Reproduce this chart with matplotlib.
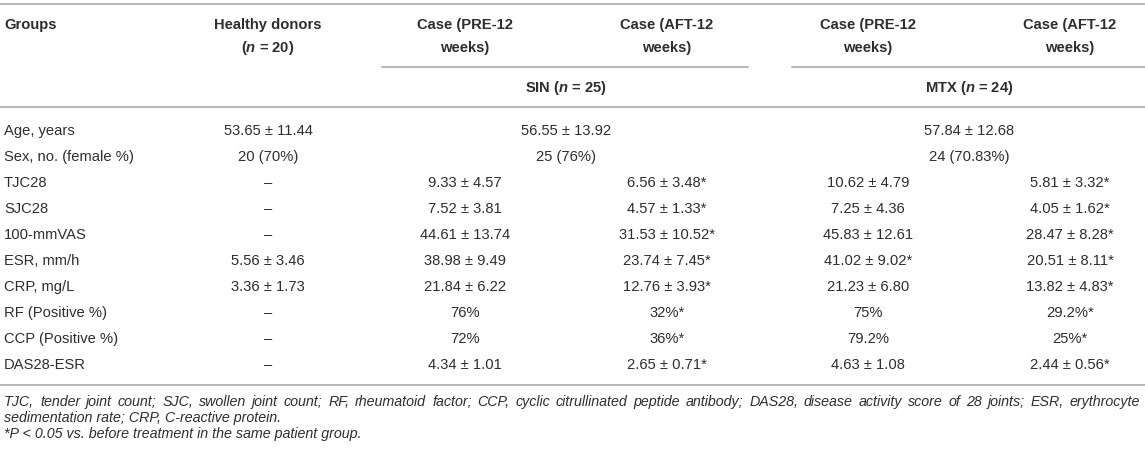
import matplotlib
matplotlib.use("Agg")
import matplotlib.pyplot as plt

plt.rcParams['font.family'] = ['Liberation Sans', 'DejaVu Sans']
plt.rcParams['mathtext.fontset'] = 'custom'
plt.rcParams['mathtext.rm'] = 'Liberation Sans'
plt.rcParams['mathtext.it'] = 'Liberation Sans:italic'
plt.rcParams['mathtext.bf'] = 'Liberation Sans:bold'
plt.rcParams['mathtext.bfit'] = 'Liberation Sans:bold:italic'

# table content
row_labels = ["Age, years", "Sex, no. (female %)", "TJC28", "SJC28", "100-mmVAS",
              "ESR, mm/h", "CRP, mg/L", "RF (Positive %)", "CCP (Positive %)", "DAS28-ESR"]
healthy = ["53.65 ± 11.44", "20 (70%)", "–", "–", "–", "5.56 ± 3.46", "3.36 ± 1.73", "–", "–", "–"]
sin_pre = [None, None, "9.33 ± 4.57", "7.52 ± 3.81", "44.61 ± 13.74", "38.98 ± 9.49",
           "21.84 ± 6.22", "76%", "72%", "4.34 ± 1.01"]
sin_aft = [None, None, "6.56 ± 3.48*", "4.57 ± 1.33*", "31.53 ± 10.52*", "23.74 ± 7.45*",
           "12.76 ± 3.93*", "32%*", "36%*", "2.65 ± 0.71*"]
mtx_pre = [None, None, "10.62 ± 4.79", "7.25 ± 4.36", "45.83 ± 12.61", "41.02 ± 9.02*",
           "21.23 ± 6.80", "75%", "79.2%", "4.63 ± 1.08"]
mtx_aft = [None, None, "5.81 ± 3.32*", "4.05 ± 1.62*", "28.47 ± 8.28*", "20.51 ± 8.11*",
           "13.82 ± 4.83*", "29.2%*", "25%*", "2.44 ± 0.56*"]
sin_merged = ["56.55 ± 13.92", "25 (76%)"]
mtx_merged = ["57.84 ± 12.68", "24 (70.83%)"]

headers_top = ["Healthy donors", "Case (PRE-12", "Case (AFT-12", "Case (PRE-12", "Case (AFT-12"]
headers_bot = ["($\\mathbfit{n}$ = 20)", "weeks)", "weeks)", "weeks)", "weeks)"]
group_labels = ["SIN ($\\mathbfit{n}$ = 25)", "MTX ($\\mathbfit{n}$ = 24)"]

footnotes = [
    "TJC, tender joint count; SJC, swollen joint count; RF, rheumatoid factor; CCP, cyclic citrullinated peptide antibody; DAS28, disease activity score of 28 joints; ESR, erythrocyte",
    "sedimentation rate; CRP, C-reactive protein.",
    "*P < 0.05 vs. before treatment in the same patient group.",
]

W, H = 1145, 453
fig = plt.figure(figsize=(W / 100, H / 100), dpi=100)
ax = fig.add_axes([0, 0, 1, 1])
ax.set_xlim(0, W)
ax.set_ylim(H, 0)
ax.axis("off")

txt = "#2e2e2e"
line_c = "#ababab"
fs = 10.6
left = 4

col_x = [268, 465, 667, 868, 1070]
sin_span = (382, 748)
mtx_span = (792, W)

# rules
ax.plot([0, W], [4, 4], color=line_c, lw=1.2)
ax.plot(sin_span, [67, 67], color=line_c, lw=1.2)
ax.plot(mtx_span, [67, 67], color=line_c, lw=1.2)
ax.plot([0, W], [107, 107], color=line_c, lw=1.2)
ax.plot([0, W], [385, 385], color=line_c, lw=1.2)

# header
ax.text(left, 25, "Groups", ha="left", va="center", fontsize=fs, fontweight="bold", color=txt)
for x, h1, h2 in zip(col_x, headers_top, headers_bot):
    ax.text(x, 25, h1, ha="center", va="center", fontsize=fs, fontweight="bold", color=txt)
    ax.text(x, 48, h2, ha="center", va="center", fontsize=fs, fontweight="bold", color=txt)
ax.text((col_x[1] + col_x[2]) / 2, 88, group_labels[0], ha="center", va="center", fontsize=fs,
        fontweight="bold", color=txt)
ax.text((col_x[3] + col_x[4]) / 2, 88, group_labels[1], ha="center", va="center", fontsize=fs,
        fontweight="bold", color=txt)

# body
y0, dy = 131, 26
for i, lab in enumerate(row_labels):
    y = y0 + i * dy
    ax.text(left, y, lab, ha="left", va="center", fontsize=fs, color=txt)
    ax.text(col_x[0], y, healthy[i], ha="center", va="center", fontsize=fs, color=txt)
    if i < len(sin_merged):
        ax.text((col_x[1] + col_x[2]) / 2, y, sin_merged[i], ha="center", va="center",
                fontsize=fs, color=txt)
        ax.text((col_x[3] + col_x[4]) / 2, y, mtx_merged[i], ha="center", va="center",
                fontsize=fs, color=txt)
    else:
        for x, col in zip(col_x[1:], [sin_pre, sin_aft, mtx_pre, mtx_aft]):
            ax.text(x, y, col[i], ha="center", va="center", fontsize=fs, color=txt)

# footnotes (first line justified to the full width), placed on baselines
fn_fs = 10.3
fn_base = [406, 422, 438]
fig.canvas.draw()
renderer = fig.canvas.get_renderer()
words = footnotes[0].split(" ")
objs = [ax.text(0, fn_base[0], w, ha="left", va="baseline", fontsize=fn_fs, style="italic",
                color=txt) for w in words]
widths = [o.get_window_extent(renderer).width for o in objs]
gap = (W - 5 - left - sum(widths)) / (len(words) - 1)
xpos = left
for o, wd in zip(objs, widths):
    o.set_x(xpos)
    xpos += wd + gap
for j in (1, 2):
    ax.text(left, fn_base[j], footnotes[j], ha="left", va="baseline", fontsize=fn_fs,
            style="italic", color=txt)

fig.savefig("out.png", dpi=100)
